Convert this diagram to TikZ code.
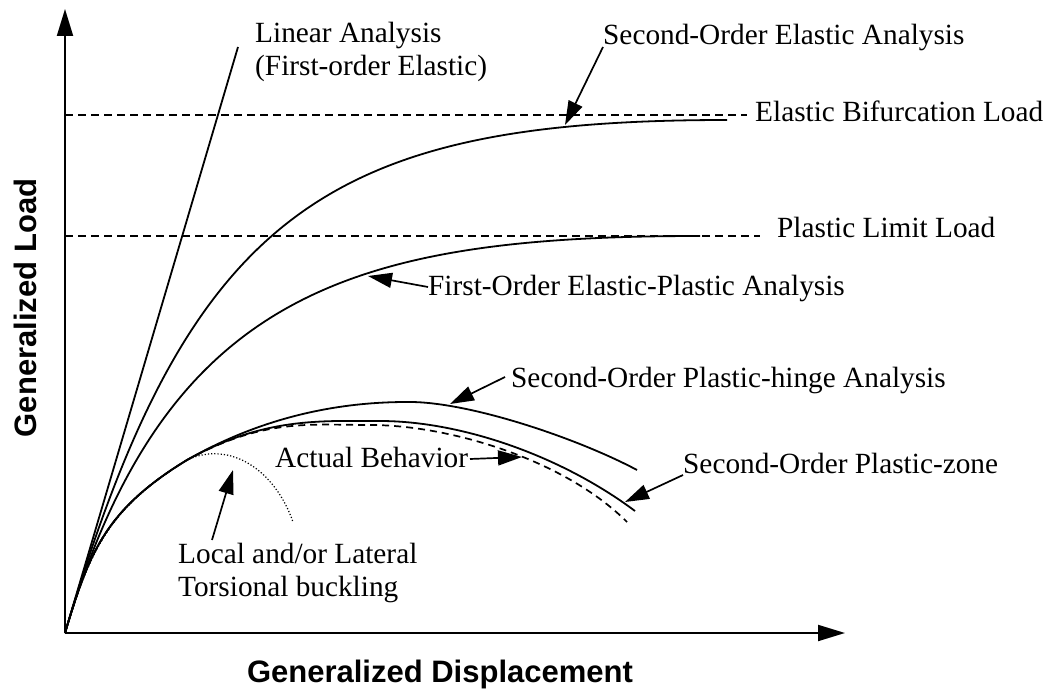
\documentclass[tikz,border=0pt]{standalone}
\usepackage{fontspec}
\setmainfont{Liberation Serif}
\newfontfamily\axisfont{Liberation Sans}
\usetikzlibrary{arrows.meta}
\begin{document}
\begin{tikzpicture}[x=1pt,y=-1pt,
  curve/.style={line width=1.8pt, line join=round},
  guide/.style={line width=1.5pt, dash pattern=on 8pt off 5pt},
  actual/.style={line width=1.7pt, dash pattern=on 7pt off 5pt},
  buckle/.style={line width=1.2pt, dash pattern=on 1.2pt off 2pt},
  lbl/.style={font=\fontsize{29.3}{33}\selectfont, inner sep=0pt, anchor=base west},
  axlbl/.style={font=\axisfont\bfseries\fontsize{31}{36}\selectfont, inner sep=0pt},
  pointer/.style={line width=1.7pt, -{Triangle[length=24pt,width=15pt]}},
  axis/.style={line width=2pt, -{Triangle[length=27pt,width=16pt]}}]
\useasboundingbox (0,0) rectangle (1047,690);

% axes
\coordinate (O) at (65,633);
\coordinate (ytip) at (65,9);
\coordinate (xtip) at (845,633);
\draw[axis] (O) -- (ytip);
\draw[axis] (O) -- (xtip);

% reference load levels
\coordinate (eb1) at (65,115);
\coordinate (eb2) at (747,115);
\coordinate (pl1) at (65,236);
\coordinate (pl2) at (760,236);
\draw[guide] (eb1) -- (eb2);
\draw[guide] (pl1) -- (pl2);

% linear analysis
\coordinate (lin) at (238,47);
\draw[curve] (O) -- (lin);

% second-order elastic
\draw[curve] (O) .. controls (189,213) and (327,120) .. (727,120);

% first-order elastic-plastic
\draw[curve] (O) .. controls (165,293) and (350,236) .. (700,236);

% common initial branch of the inelastic curves
\coordinate (K) at (187,460);
% second-order plastic hinge
\draw[curve] (O) .. controls (89,553) and (105,510) .. (K)
  .. controls (264,416) and (340,402) .. (407,402)
  .. controls (467,401) and (577,438) .. (637,470);
% second-order plastic zone
\draw[curve] (O) .. controls (89,553) and (105,510) .. (K)
  .. controls (264,417) and (320,421) .. (380,421)
  .. controls (460,421) and (560,455) .. (635,511);
% actual behaviour
\draw[actual] (O) .. controls (89,553) and (105,510) .. (K)
  .. controls (264,418) and (310,425) .. (370,425)
  .. controls (450,425) and (565,460) .. (627,522);
% local / lateral torsional buckling
\draw[buckle] (O) .. controls (90,553) and (106,510) .. (K)
  .. controls (230,440) and (275,470) .. (293,522);

% labels
\node[lbl, align=left, anchor=north west] (linlbl) at (255,22) {Linear Analysis\\(First-order Elastic)};
\node[lbl] (soe) at (603,45) {Second-Order Elastic Analysis};
\node[lbl] (ebl) at (755,122) {Elastic Bifurcation Load};
\node[lbl] (pll) at (777,237) {Plastic Limit Load};
\node[lbl] (foep) at (428,295) {First-Order Elastic-Plastic Analysis};
\node[lbl] (soph) at (511,387) {Second-Order Plastic-hinge Analysis};
\node[lbl] (sopz) at (683,473) {Second-Order Plastic-zone};
\node[lbl] (act) at (275,467) {Actual Behavior};
\node[lbl, align=left, anchor=north west] (loc) at (178,543) {Local and/or Lateral\\Torsional buckling};

\node[axlbl, anchor=base] (xl) at (440,682) {Generalized Displacement};
\node[axlbl, anchor=base, rotate=90] (yl) at (36,308) {Generalized Load};

% pointers
\coordinate (soeT) at (603,47);   \coordinate (soeH) at (565,125);
\coordinate (foepT) at (428,287); \coordinate (foepH) at (368,276);
\coordinate (sophT) at (505,377); \coordinate (sophH) at (450,404);
\coordinate (sopzT) at (683,475); \coordinate (sopzH) at (625,502);
\coordinate (actT) at (470,459);  \coordinate (actH) at (522,457);
\coordinate (locT) at (212,540);  \coordinate (locH) at (233,470);
\draw[pointer] (soeT) -- (soeH);
\draw[pointer] (foepT) -- (foepH);
\draw[pointer] (sophT) -- (sophH);
\draw[pointer] (sopzT) -- (sopzH);
\draw[pointer] (actT) -- (actH);
\draw[pointer] (locT) -- (locH);
\end{tikzpicture}
\end{document}
